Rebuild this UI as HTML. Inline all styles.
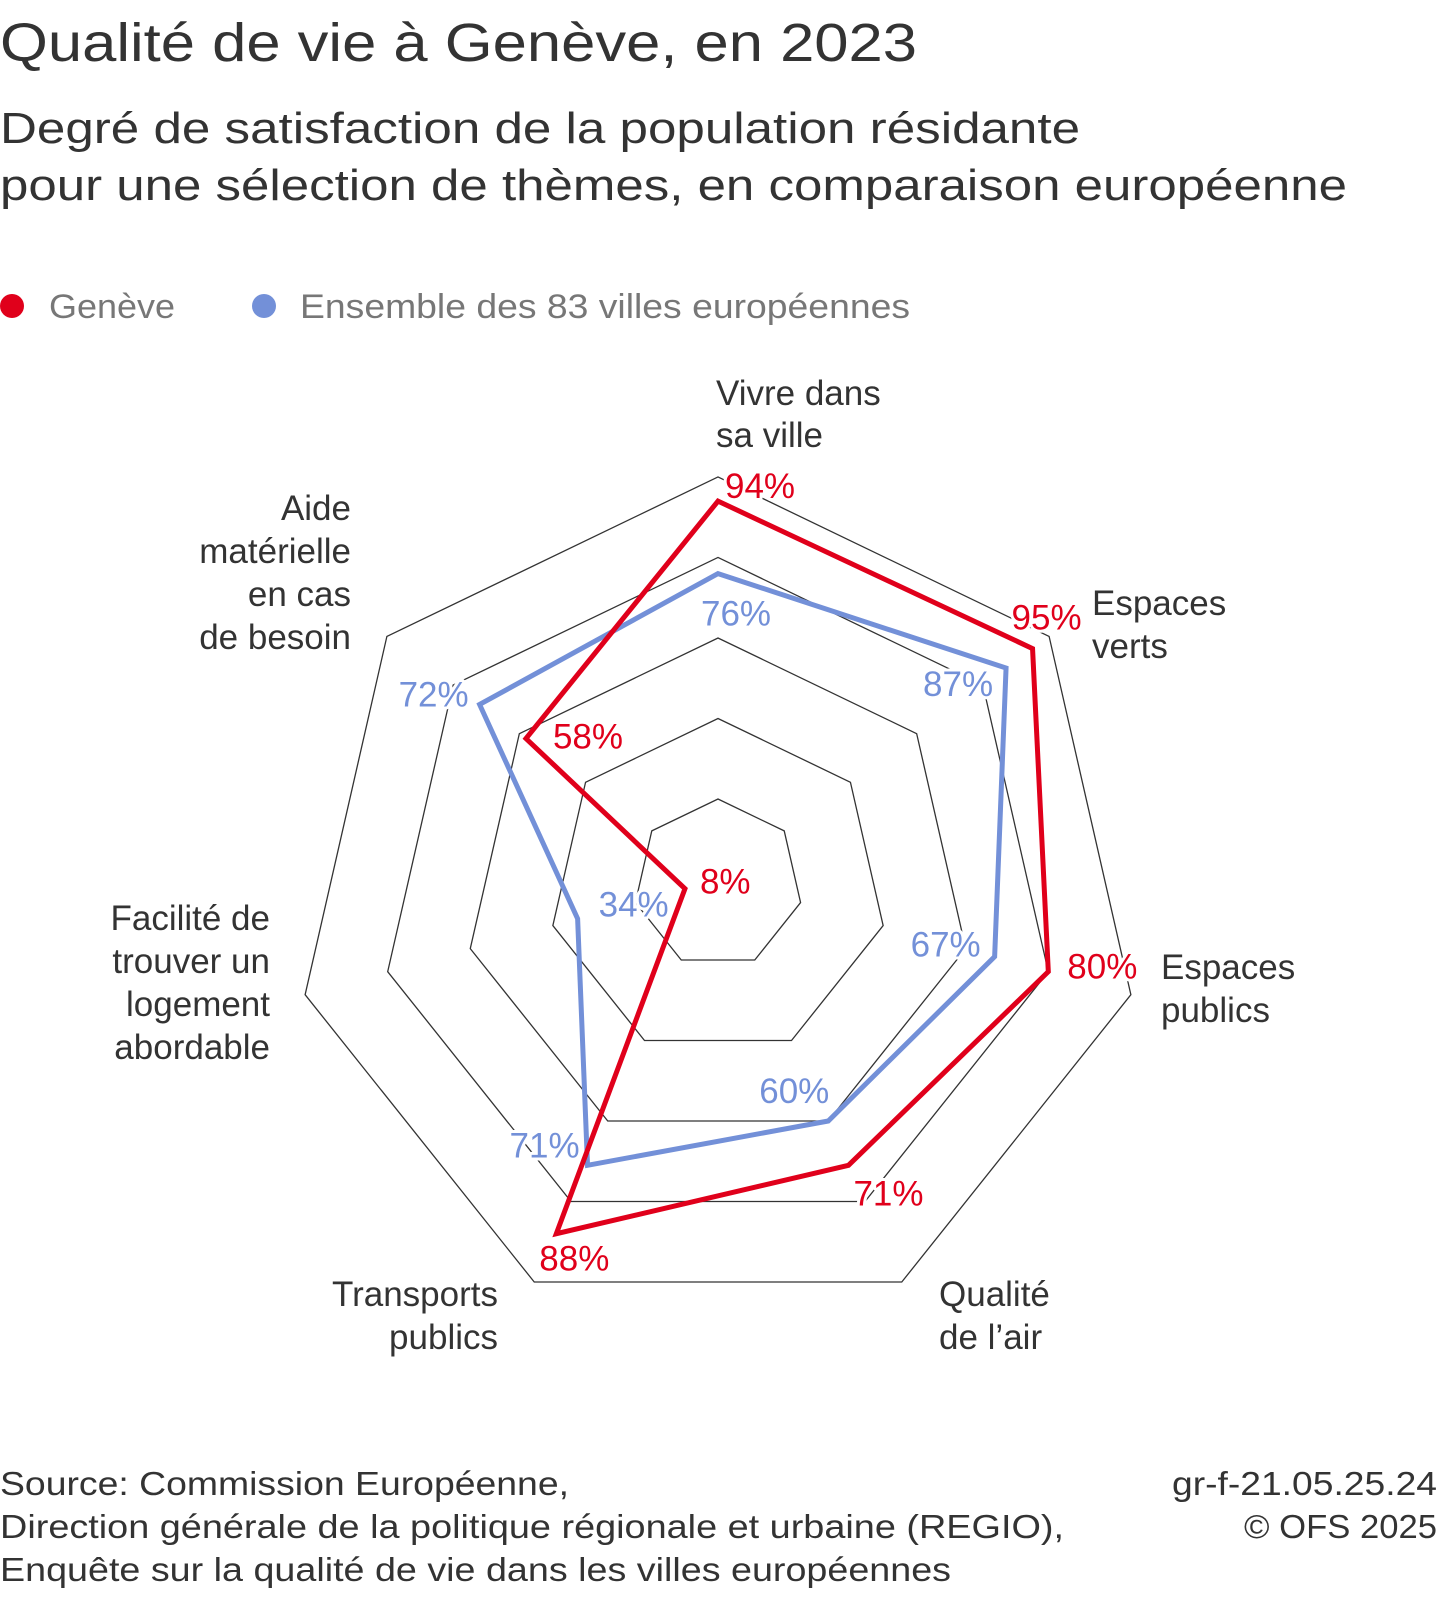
<!DOCTYPE html>
<html><head><meta charset="utf-8"><style>
html,body{margin:0;padding:0;background:#fff;}
svg{display:block;font-family:"Liberation Sans","DejaVu Sans",sans-serif;}
.lbl{font-size:35px;fill:#333;}
.val{font-size:35px;paint-order:stroke;stroke:#fff;stroke-width:6px;stroke-linejoin:round;}
</style></head><body>
<svg id="chart" width="1437" height="1602" viewBox="0 0 1437 1602">
<text x="0" y="61" font-size="54" fill="#333" textLength="917" lengthAdjust="spacingAndGlyphs">Qualité de vie à Genève, en 2023</text>
<text x="0" y="143" font-size="44" fill="#333" textLength="1080" lengthAdjust="spacingAndGlyphs">Degré de satisfaction de la population résidante</text>
<text x="0" y="200" font-size="44" fill="#333" textLength="1347" lengthAdjust="spacingAndGlyphs">pour une sélection de thèmes, en comparaison européenne</text>
<g>
<circle cx="12" cy="306" r="12" fill="#e0001b"/>
<text x="49" y="318" font-size="34" fill="#777" textLength="126" lengthAdjust="spacingAndGlyphs">Genève</text>
<circle cx="264" cy="306" r="12" fill="#7390d8"/>
<text x="300" y="318" font-size="34" fill="#777" textLength="610" lengthAdjust="spacingAndGlyphs">Ensemble des 83 villes européennes</text>
</g>
<g id="grid"></g>
<g id="series"></g>
<g>
<text class="lbl" x="716" y="405"><tspan x="716">Vivre dans</tspan><tspan x="716" dy="42">sa ville</tspan></text>
<text class="lbl" x="1092" y="615"><tspan x="1092">Espaces</tspan><tspan x="1092" dy="43">verts</tspan></text>
<text class="lbl" x="1161" y="979"><tspan x="1161">Espaces</tspan><tspan x="1161" dy="43">publics</tspan></text>
<text class="lbl" x="939" y="1306"><tspan x="939">Qualité</tspan><tspan x="939" dy="43">de l’air</tspan></text>
<text class="lbl" text-anchor="end" x="498" y="1306"><tspan x="498">Transports</tspan><tspan x="498" dy="43">publics</tspan></text>
<text class="lbl" text-anchor="end" x="270" y="930"><tspan x="270">Facilité de</tspan><tspan x="270" dy="43">trouver un</tspan><tspan x="270" dy="43">logement</tspan><tspan x="270" dy="43">abordable</tspan></text>
<text class="lbl" text-anchor="end" x="351" y="520"><tspan x="351">Aide</tspan><tspan x="351" dy="43">matérielle</tspan><tspan x="351" dy="43">en cas</tspan><tspan x="351" dy="43">de besoin</tspan></text>
</g>
<g id="vals"></g>
<g>
<text x="0" y="1495" font-size="33" fill="#333" textLength="569" lengthAdjust="spacingAndGlyphs">Source: Commission Européenne,</text>
<text x="0" y="1538" font-size="33" fill="#333" textLength="1064" lengthAdjust="spacingAndGlyphs">Direction générale de la politique régionale et urbaine (REGIO),</text>
<text x="0" y="1581" font-size="33" fill="#333" textLength="951" lengthAdjust="spacingAndGlyphs">Enquête sur la qualité de vie dans les villes européennes</text>
<text x="1437" y="1495" font-size="33" fill="#333" text-anchor="end" textLength="265" lengthAdjust="spacingAndGlyphs">gr-f-21.05.25.24</text>
<text x="1437" y="1538" font-size="33" fill="#333" text-anchor="end" textLength="193" lengthAdjust="spacingAndGlyphs">© OFS 2025</text>
</g>
</svg>
<script>
const categories = ["Vivre dans sa ville","Espaces verts","Espaces publics","Qualité de l'air","Transports publics","Facilité de trouver un logement abordable","Aide matérielle en cas de besoin"];
const geneveValues = [94, 95, 80, 71, 88, 8, 58];
const europeValues = [76, 87, 67, 60, 71, 34, 72];
const gridLevels = [20, 40, 60, 80, 100];
const geneveLabels = ["94%","95%","80%","71%","88%","8%","58%"];
const europeLabels = ["76%","87%","67%","60%","71%","34%","72%"];

const NS = "http://www.w3.org/2000/svg";
const cx = 718, cy0 = 879.5, R = 423.5;
function pt(i, v) {
  const a = i * 2 * Math.PI / categories.length;
  const r = R * v / 100;
  return [cx + r * Math.sin(a), cy0 + 0.0495 * r - r * Math.cos(a)];
}
const grid = document.getElementById("grid");
gridLevels.forEach(function (lv) {
  const p = document.createElementNS(NS, "polygon");
  p.setAttribute("points", categories.map(function (c, i) { return pt(i, lv).join(","); }).join(" "));
  p.setAttribute("fill", "none");
  p.setAttribute("stroke", "#333");
  p.setAttribute("stroke-width", "1.3");
  
  
  grid.appendChild(p);
});
const series = document.getElementById("series");
function drawSeries(vals, color, name) {
  const p = document.createElementNS(NS, "polygon");
  p.setAttribute("points", vals.map(function (v, i) { return pt(i, v).join(","); }).join(" "));
  p.setAttribute("fill", "none");
  p.setAttribute("stroke", color);
  p.setAttribute("stroke-width", "5");
  p.setAttribute("stroke-linejoin", "miter");
  
  
  series.appendChild(p);
}
drawSeries(europeValues, "#7390d8", "series-europe");
drawSeries(geneveValues, "#e0001b", "series-geneve");

const gOff = [[7,-3],[-21,-19],[19,7],[5,40],[-17,37],[15,5],[27,10]];
const eOff = [[-17,52],[-83,28],[-84,0],[-69,-18],[-78,-8],[21,-2],[-81,2]];
const vals = document.getElementById("vals");
function drawLabels(values, labels, off, color, name) {
  values.forEach(function (v, i) {
    const p = pt(i, v);
    const t = document.createElementNS(NS, "text");
    t.setAttribute("x", p[0] + off[i][0]);
    t.setAttribute("y", p[1] + off[i][1]);
    t.setAttribute("class", "val");
    t.setAttribute("fill", color);
    t.textContent = labels[i];
    
    
    vals.appendChild(t);
  });
}
drawLabels(geneveValues, geneveLabels, gOff, "#e0001b", "value-label-geneve");
drawLabels(europeValues, europeLabels, eOff, "#7390d8", "value-label-europe");
</script>
</body></html>
